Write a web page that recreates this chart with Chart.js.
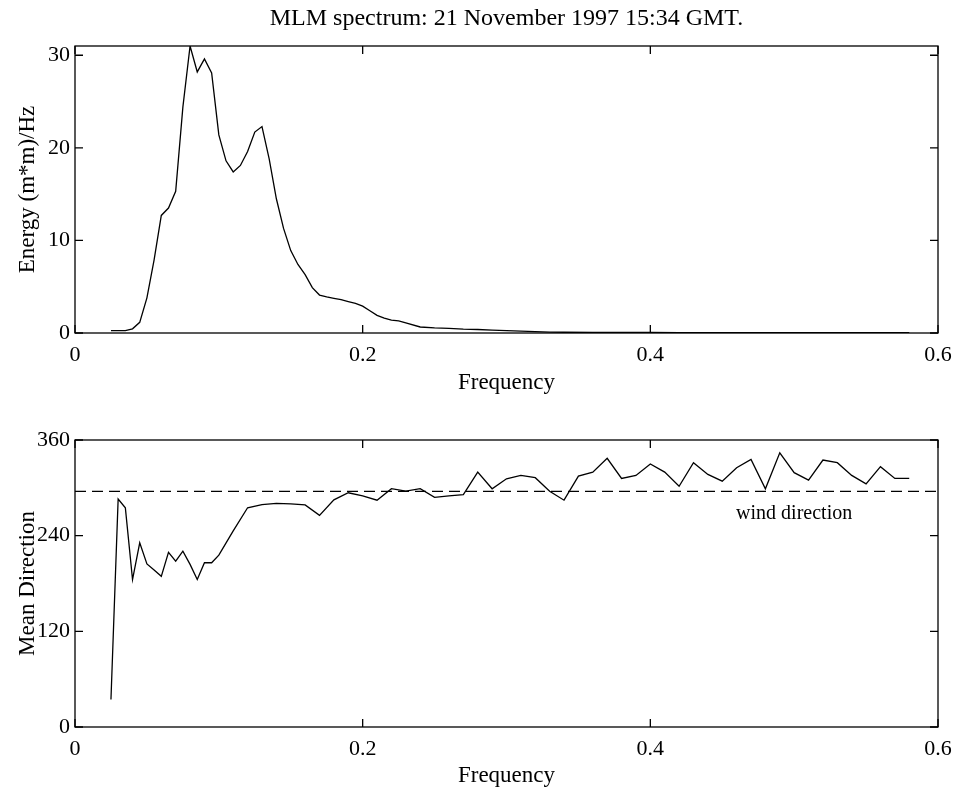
<!DOCTYPE html>
<html lang="en">
<head>
<meta charset="UTF-8">
<title>MLM spectrum</title>
<script src="https://cdn.jsdelivr.net/npm/chart.js"></script>
<style>
    body { margin: 0; background: white; }
    #wrap { position: relative; width: 961px; height: 791px; }
    #top-box { position: absolute; left: 0; top: 0; width: 961px; height: 400px; }
    #bottom-box { position: absolute; left: 0; top: 400px; width: 961px; height: 391px; }
</style>
</head>
<body>
<div id="wrap">
    <div id="top-box"><canvas id="energyChart"></canvas></div>
    <div id="bottom-box"><canvas id="dirChart"></canvas></div>
</div>
<script>
// energy spectrum (top panel)
const energyFreq = [0.025, 0.030, 0.035, 0.040, 0.045, 0.050, 0.055, 0.060, 0.065, 0.070, 0.075, 0.080, 0.085, 0.090, 0.095, 0.100,
    0.105, 0.110, 0.115, 0.120, 0.125, 0.130, 0.135, 0.140, 0.145, 0.150, 0.155, 0.160, 0.165, 0.170, 0.175, 0.180, 0.185,
    0.190, 0.195, 0.200, 0.205, 0.210, 0.215, 0.220, 0.225, 0.230,
    0.24, 0.25, 0.26, 0.27, 0.28, 0.29, 0.30, 0.31, 0.32, 0.33, 0.34,
    0.36, 0.38, 0.40, 0.42, 0.44, 0.46, 0.48, 0.50, 0.52, 0.54, 0.56, 0.58];
const energy = [0.25, 0.25, 0.25, 0.45, 1.15, 3.8, 7.9, 12.7, 13.5, 15.3, 24.4, 31.0, 28.2, 29.6, 28.1, 21.4,
    18.6, 17.4, 18.1, 19.6, 21.7, 22.3, 18.8, 14.5, 11.3, 8.9, 7.4, 6.3, 4.9, 4.1, 3.9, 3.75, 3.6,
    3.4, 3.2, 2.9, 2.4, 1.9, 1.6, 1.4, 1.3, 1.1,
    0.65, 0.55, 0.5, 0.42, 0.38, 0.3, 0.25, 0.2, 0.15, 0.1, 0.08,
    0.07, 0.06, 0.06, 0.05, 0.05, 0.05, 0.04, 0.04, 0.04, 0.04, 0.03, 0.03];

// mean direction (bottom panel)
const dirFreq = [0.025, 0.030, 0.035, 0.040, 0.045, 0.050, 0.055, 0.060, 0.065, 0.070, 0.075, 0.080, 0.085, 0.090, 0.095, 0.100,
    0.11, 0.12, 0.13, 0.14, 0.15, 0.16, 0.17, 0.18, 0.19, 0.20, 0.21, 0.22, 0.23, 0.24, 0.25, 0.26, 0.27, 0.28, 0.29, 0.30,
    0.31, 0.32, 0.33, 0.34, 0.35, 0.36, 0.37, 0.38, 0.39, 0.40, 0.41, 0.42, 0.43, 0.44, 0.45, 0.46, 0.47, 0.48, 0.49, 0.50,
    0.51, 0.52, 0.53, 0.54, 0.55, 0.56, 0.57, 0.58];
const meanDir = [34.5, 286, 275, 185, 231, 204.5, 197, 189, 219, 208, 220.5, 204, 185, 206, 206, 215.5,
    246, 275, 279, 280.5, 280, 278.5, 265.5, 285, 293.8, 290, 284.5, 299, 296, 299, 288, 290, 291.6, 319.7, 298.8, 311.4,
    315.6, 312.7, 295.8, 284.5, 314.7, 319.7, 337, 311.8, 315.6, 330, 319.7, 302, 331.5, 316.8, 308.4, 325.3, 335.7, 298.8, 344, 319,
    309.7, 334.9, 331.5, 315.6, 305, 326.5, 311.8, 311.8];
const windDir = 295.5;

const freqTicks = [0, 0.2, 0.4, 0.6];
const energyTicks = [0, 10, 20, 30];
const dirTicks = [0, 120, 240, 360];

const FONT = '"Liberation Serif", "Times New Roman", serif';

// matlab style box with inward ticks on all four sides
const framePlugin = {
    id: 'frame',
    afterDraw(chart) {
        const { ctx, chartArea: a } = chart;
        const xs = chart.scales.x, ys = chart.scales.y;
        const len = 8;
        ctx.save();
        ctx.strokeStyle = '#000';
        ctx.lineWidth = 1.3;
        ctx.strokeRect(a.left, a.top, a.right - a.left, a.bottom - a.top);
        ctx.beginPath();
        xs.ticks.forEach(t => {
            const px = xs.getPixelForValue(t.value);
            ctx.moveTo(px, a.bottom); ctx.lineTo(px, a.bottom - len);
            ctx.moveTo(px, a.top); ctx.lineTo(px, a.top + len);
        });
        ys.ticks.forEach(t => {
            const py = ys.getPixelForValue(t.value);
            ctx.moveTo(a.left, py); ctx.lineTo(a.left + len, py);
            ctx.moveTo(a.right, py); ctx.lineTo(a.right - len, py);
        });
        ctx.stroke();
        ctx.restore();
    }
};

// text under the dashed line
const windLabel = {
    id: 'windLabel',
    afterDatasetsDraw(chart) {
        const { ctx } = chart;
        ctx.save();
        ctx.fillStyle = '#000';
        ctx.font = '20px ' + FONT;
        ctx.textAlign = 'center';
        ctx.textBaseline = 'middle';
        ctx.fillText('wind direction', chart.scales.x.getPixelForValue(0.5), chart.scales.y.getPixelForValue(268));
        ctx.restore();
    }
};

function xScale(height, titlePad) {
    return {
        type: 'linear', min: 0, max: 0.6,
        afterBuildTicks: s => { s.ticks = freqTicks.map(v => ({ value: v })); },
        afterFit: s => { s.height = height; },
        ticks: { color: '#000', padding: 9, font: { family: FONT, size: 22 }, maxRotation: 0,
                 callback: v => String(+v.toFixed(1)) },
        grid: { display: false, drawTicks: false },
        border: { display: false },
        title: { display: true, text: 'Frequency', color: '#000', font: { family: FONT, size: 23 },
                 padding: { top: 0, bottom: titlePad } }
    };
}

function yScale(max, ticks, label) {
    return {
        min: 0, max: max,
        afterBuildTicks: s => { s.ticks = ticks.map(v => ({ value: v })); },
        afterFit: s => { s.width = 75; },
        ticks: { color: '#000', padding: 5, font: { family: FONT, size: 22 } },
        grid: { display: false, drawTicks: false },
        border: { display: false },
        title: { display: true, text: label, color: '#000', font: { family: FONT, size: 23 },
                 padding: { top: 14, bottom: 0 } }
    };
}

const rightPad = {
    position: 'right', display: true,
    afterFit: s => { s.width = 23; },
    ticks: { display: false }, grid: { display: false, drawTicks: false }, border: { display: false }
};

new Chart(document.getElementById('energyChart'), {
    type: 'line',
    data: {
        datasets: [{
            data: energyFreq.map((f, i) => ({ x: f, y: energy[i] })),
            borderColor: '#000', borderWidth: 1.3, pointRadius: 0, tension: 0
        }]
    },
    options: {
        responsive: true, maintainAspectRatio: false, animation: false,
        layout: { padding: 0 },
        plugins: {
            legend: { display: false }, tooltip: { enabled: false },
            title: { display: true, fullSize: false, text: 'MLM spectrum: 21 November 1997 15:34 GMT.', color: '#000',
                     font: { family: FONT, size: 24, weight: 'normal' }, padding: { top: 4, bottom: 13.2 } }
        },
        scales: { x: xScale(67, 3), y: yScale(31, energyTicks, 'Energy (m*m)/Hz'), y2: rightPad }
    },
    plugins: [framePlugin]
});

new Chart(document.getElementById('dirChart'), {
    type: 'line',
    data: {
        datasets: [{
            data: dirFreq.map((f, i) => ({ x: f, y: meanDir[i] })),
            borderColor: '#000', borderWidth: 1.3, pointRadius: 0, tension: 0
        }, {
            data: [{ x: 0, y: windDir }, { x: 0.6, y: windDir }],
            borderColor: '#000', borderWidth: 1.3, borderDash: [11, 6], pointRadius: 0
        }]
    },
    options: {
        responsive: true, maintainAspectRatio: false, animation: false,
        layout: { padding: { top: 40 } },
        plugins: { legend: { display: false }, tooltip: { enabled: false } },
        scales: { x: xScale(64, 1), y: yScale(360, dirTicks, 'Mean Direction'), y2: rightPad }
    },
    plugins: [framePlugin, windLabel]
});
</script>
</body>
</html>
